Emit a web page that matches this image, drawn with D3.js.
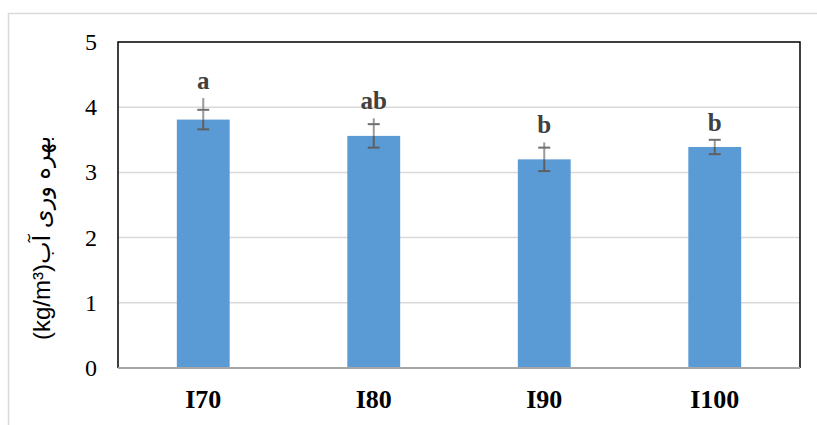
<!DOCTYPE html>
<html>
<head>
<meta charset="utf-8">
<script src="https://cdn.jsdelivr.net/npm/d3@7"></script>
<style>
  body { margin: 0; background: #fff; }
  svg { display: block; }
</style>
</head>
<body>
<svg width="817" height="425"></svg>
<script>
// data
const categories = ['I70', 'I80', 'I90', 'I100'];
const means = [3.81, 3.56, 3.20, 3.39];
const stdErr = [0.15, 0.18, 0.18, 0.11];
const tips = [4.14, 3.83, 3.46, 3.50];
const letters = ['a', 'ab', 'b', 'b'];
const yTicks = [0, 1, 2, 3, 4, 5];

const svg = d3.select('svg');
const plotLeft = 118, plotRight = 800, plotTop = 42, plotBottom = 368;

// outer chart border
svg.append('rect')
  .attr('x', 8.5).attr('y', 13.5)
  .attr('width', 830).attr('height', 430)
  .attr('fill', 'none')
  .attr('stroke', '#d9d9d9')
  .attr('stroke-width', 1.5);

const y = d3.scaleLinear().domain([0, 5]).range([plotBottom, plotTop]);
const x = d3.scaleBand().domain(categories).range([plotLeft, plotRight])
  .paddingInner(0.69).paddingOuter(0.345);

// gridlines
svg.append('g')
  .selectAll('line')
  .data(yTicks.filter(t => t > 0 && t < 5))
  .enter().append('line')
  .attr('x1', plotLeft).attr('x2', plotRight)
  .attr('y1', d => y(d)).attr('y2', d => y(d))
  .attr('stroke', '#d9d9d9')
  .attr('stroke-width', 1.5);

// y tick labels
svg.append('g')
  .selectAll('text')
  .data(yTicks)
  .enter().append('text')
  .attr('x', 97)
  .attr('y', d => y(d) + 8)
  .attr('text-anchor', 'end')
  .attr('font-family', '"Liberation Serif", "Times New Roman", serif')
  .attr('font-size', 24)
  .attr('fill', '#000')
  .text(d => d);

const rows = categories.map((c, i) => ({
  cat: c, mean: means[i], se: stdErr[i], tip: tips[i], letter: letters[i]
}));

// bars
svg.append('g')
  .selectAll('rect')
  .data(rows)
  .enter().append('rect')
  .attr('x', d => x(d.cat))
  .attr('y', d => y(d.mean))
  .attr('width', x.bandwidth())
  .attr('height', d => y(0) - y(d.mean))
  .attr('fill', '#5b9bd5');

// error bars
const eb = svg.append('g').selectAll('g').data(rows).enter().append('g');
const cx = d => x(d.cat) + x.bandwidth() / 2;
const cap = 6;

eb.append('line')   // part above the bar
  .attr('x1', cx).attr('x2', cx)
  .attr('y1', d => y(d.tip)).attr('y2', d => y(d.mean))
  .attr('stroke', '#9a9a9a').attr('stroke-width', 2);
eb.append('line')   // part over the bar
  .attr('x1', cx).attr('x2', cx)
  .attr('y1', d => y(d.mean)).attr('y2', d => y(d.mean - d.se))
  .attr('stroke', '#5f5f5f').attr('stroke-width', 2);
eb.append('line')
  .attr('x1', d => cx(d) - cap).attr('x2', d => cx(d) + cap)
  .attr('y1', d => y(d.mean + d.se)).attr('y2', d => y(d.mean + d.se))
  .attr('stroke', '#6f6f6f').attr('stroke-width', 2);
eb.append('line')
  .attr('x1', d => cx(d) - cap).attr('x2', d => cx(d) + cap)
  .attr('y1', d => y(d.mean - d.se)).attr('y2', d => y(d.mean - d.se))
  .attr('stroke', '#5f5f5f').attr('stroke-width', 2);

// significance letters
svg.append('g')
  .selectAll('text')
  .data(rows)
  .enter().append('text')
  .attr('x', cx)
  .attr('y', d => y(d.tip) - 9)
  .attr('text-anchor', 'middle')
  .attr('font-family', '"Liberation Serif", "Times New Roman", serif')
  .attr('font-weight', 'bold')
  .attr('font-size', 25)
  .attr('fill', '#404040')
  .text(d => d.letter);

// plot frame: black left, top, right; grey baseline
svg.append('path')
  .attr('d', `M${plotLeft},${plotBottom}V${plotTop}H${plotRight}V${plotBottom}`)
  .attr('fill', 'none')
  .attr('stroke', '#000')
  .attr('stroke-width', 1.5);
svg.append('line')
  .attr('x1', plotLeft).attr('x2', plotRight)
  .attr('y1', plotBottom).attr('y2', plotBottom)
  .attr('stroke', '#a6a6a6')
  .attr('stroke-width', 2);

// x labels
svg.append('g')
  .selectAll('text')
  .data(categories)
  .enter().append('text')
  .attr('x', d => x(d) + x.bandwidth() / 2)
  .attr('y', 408)
  .attr('text-anchor', 'middle')
  .attr('font-family', '"Liberation Serif", "Times New Roman", serif')
  .attr('font-weight', 'bold')
  .attr('font-size', 26)
  .attr('fill', '#000')
  .text(d => d);

// y axis title
svg.append('text')
  .attr('transform', `translate(50, ${(plotTop + plotBottom) / 2 + 33}) rotate(-90)`)
  .attr('text-anchor', 'middle')
  .attr('font-family', '"Liberation Sans", Arial, "DejaVu Sans", sans-serif')
  .attr('font-size', 24)
  .attr('fill', '#000')
  .text('(kg/m\u00B3)بهره وری آب');
</script>
</body>
</html>
